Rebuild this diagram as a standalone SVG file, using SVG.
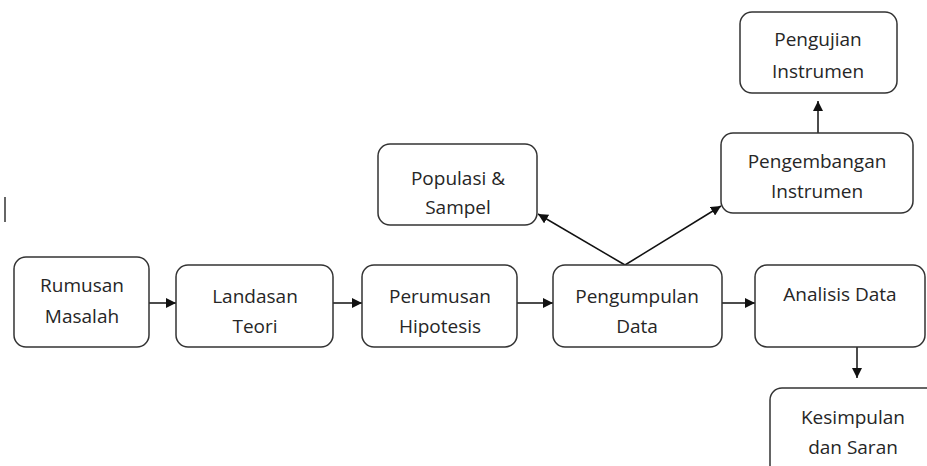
<svg xmlns="http://www.w3.org/2000/svg" width="927" height="466" viewBox="0 0 927 466">
<style>
.box{fill:#fff;stroke:#333;stroke-width:1.5}
.t{font-family:"Open Sans","Liberation Sans",sans-serif;font-size:19px;fill:#262626;text-anchor:middle}
.c{stroke:#111;stroke-width:1.5;fill:none;marker-end:url(#ah)}
</style>
<defs>
<marker id="ah" viewBox="0 0 10 10" refX="10" refY="5" markerWidth="10" markerHeight="10" markerUnits="userSpaceOnUse" orient="auto">
<path d="M0,0 L10,5 L0,10 z" fill="#111"/>
</marker>
</defs>
<rect width="927" height="466" fill="#fff"/>
<line x1="5" y1="197" x2="5" y2="222" stroke="#333" stroke-width="1.5"/>
<g id="connectors">
<line class="c" x1="149" y1="303" x2="176" y2="303"/>
<line class="c" x1="333" y1="303" x2="362" y2="303"/>
<line class="c" x1="517" y1="303" x2="553" y2="303"/>
<line class="c" x1="722" y1="303" x2="755" y2="303"/>
<line class="c" x1="857" y1="347" x2="857" y2="378"/>
<line class="c" x1="625" y1="265" x2="538" y2="214"/>
<line class="c" x1="625" y1="265" x2="721" y2="206"/>
<line class="c" x1="818" y1="133" x2="818" y2="101"/>
</g>
<g id="rumusan"><rect class="box" x="14" y="257" width="135" height="90" rx="12"/><text class="t" x="82" y="292">Rumusan</text><text class="t" x="82" y="323">Masalah</text></g>
<g id="landasan"><rect class="box" x="176" y="265" width="157" height="82" rx="12"/><text class="t" x="255" y="303">Landasan</text><text class="t" x="255" y="333">Teori</text></g>
<g id="perumusan"><rect class="box" x="362" y="265" width="155" height="82" rx="12"/><text class="t" x="440" y="303">Perumusan</text><text class="t" x="440" y="333">Hipotesis</text></g>
<g id="pengumpulan"><rect class="box" x="553" y="265" width="169" height="82" rx="12"/><text class="t" x="637" y="303">Pengumpulan</text><text class="t" x="637" y="333">Data</text></g>
<g id="analisis"><rect class="box" x="755" y="265" width="170" height="82" rx="12"/><text class="t" x="840" y="301">Analisis Data</text></g>
<g id="kesimpulan"><rect class="box" x="770" y="388" width="170" height="90" rx="12"/><text class="t" x="853" y="424">Kesimpulan</text><text class="t" x="853" y="454">dan Saran</text></g>
<g id="populasi"><rect class="box" x="378" y="144" width="159" height="81" rx="12"/><text class="t" x="458" y="185">Populasi &amp;</text><text class="t" x="458" y="214">Sampel</text></g>
<g id="pengembangan"><rect class="box" x="721" y="133" width="192" height="80" rx="12"/><text class="t" x="817" y="168">Pengembangan</text><text class="t" x="817" y="198">Instrumen</text></g>
<g id="pengujian"><rect class="box" x="740" y="12" width="157" height="81" rx="12"/><text class="t" x="818" y="46">Pengujian</text><text class="t" x="818" y="78">Instrumen</text></g>
</svg>
